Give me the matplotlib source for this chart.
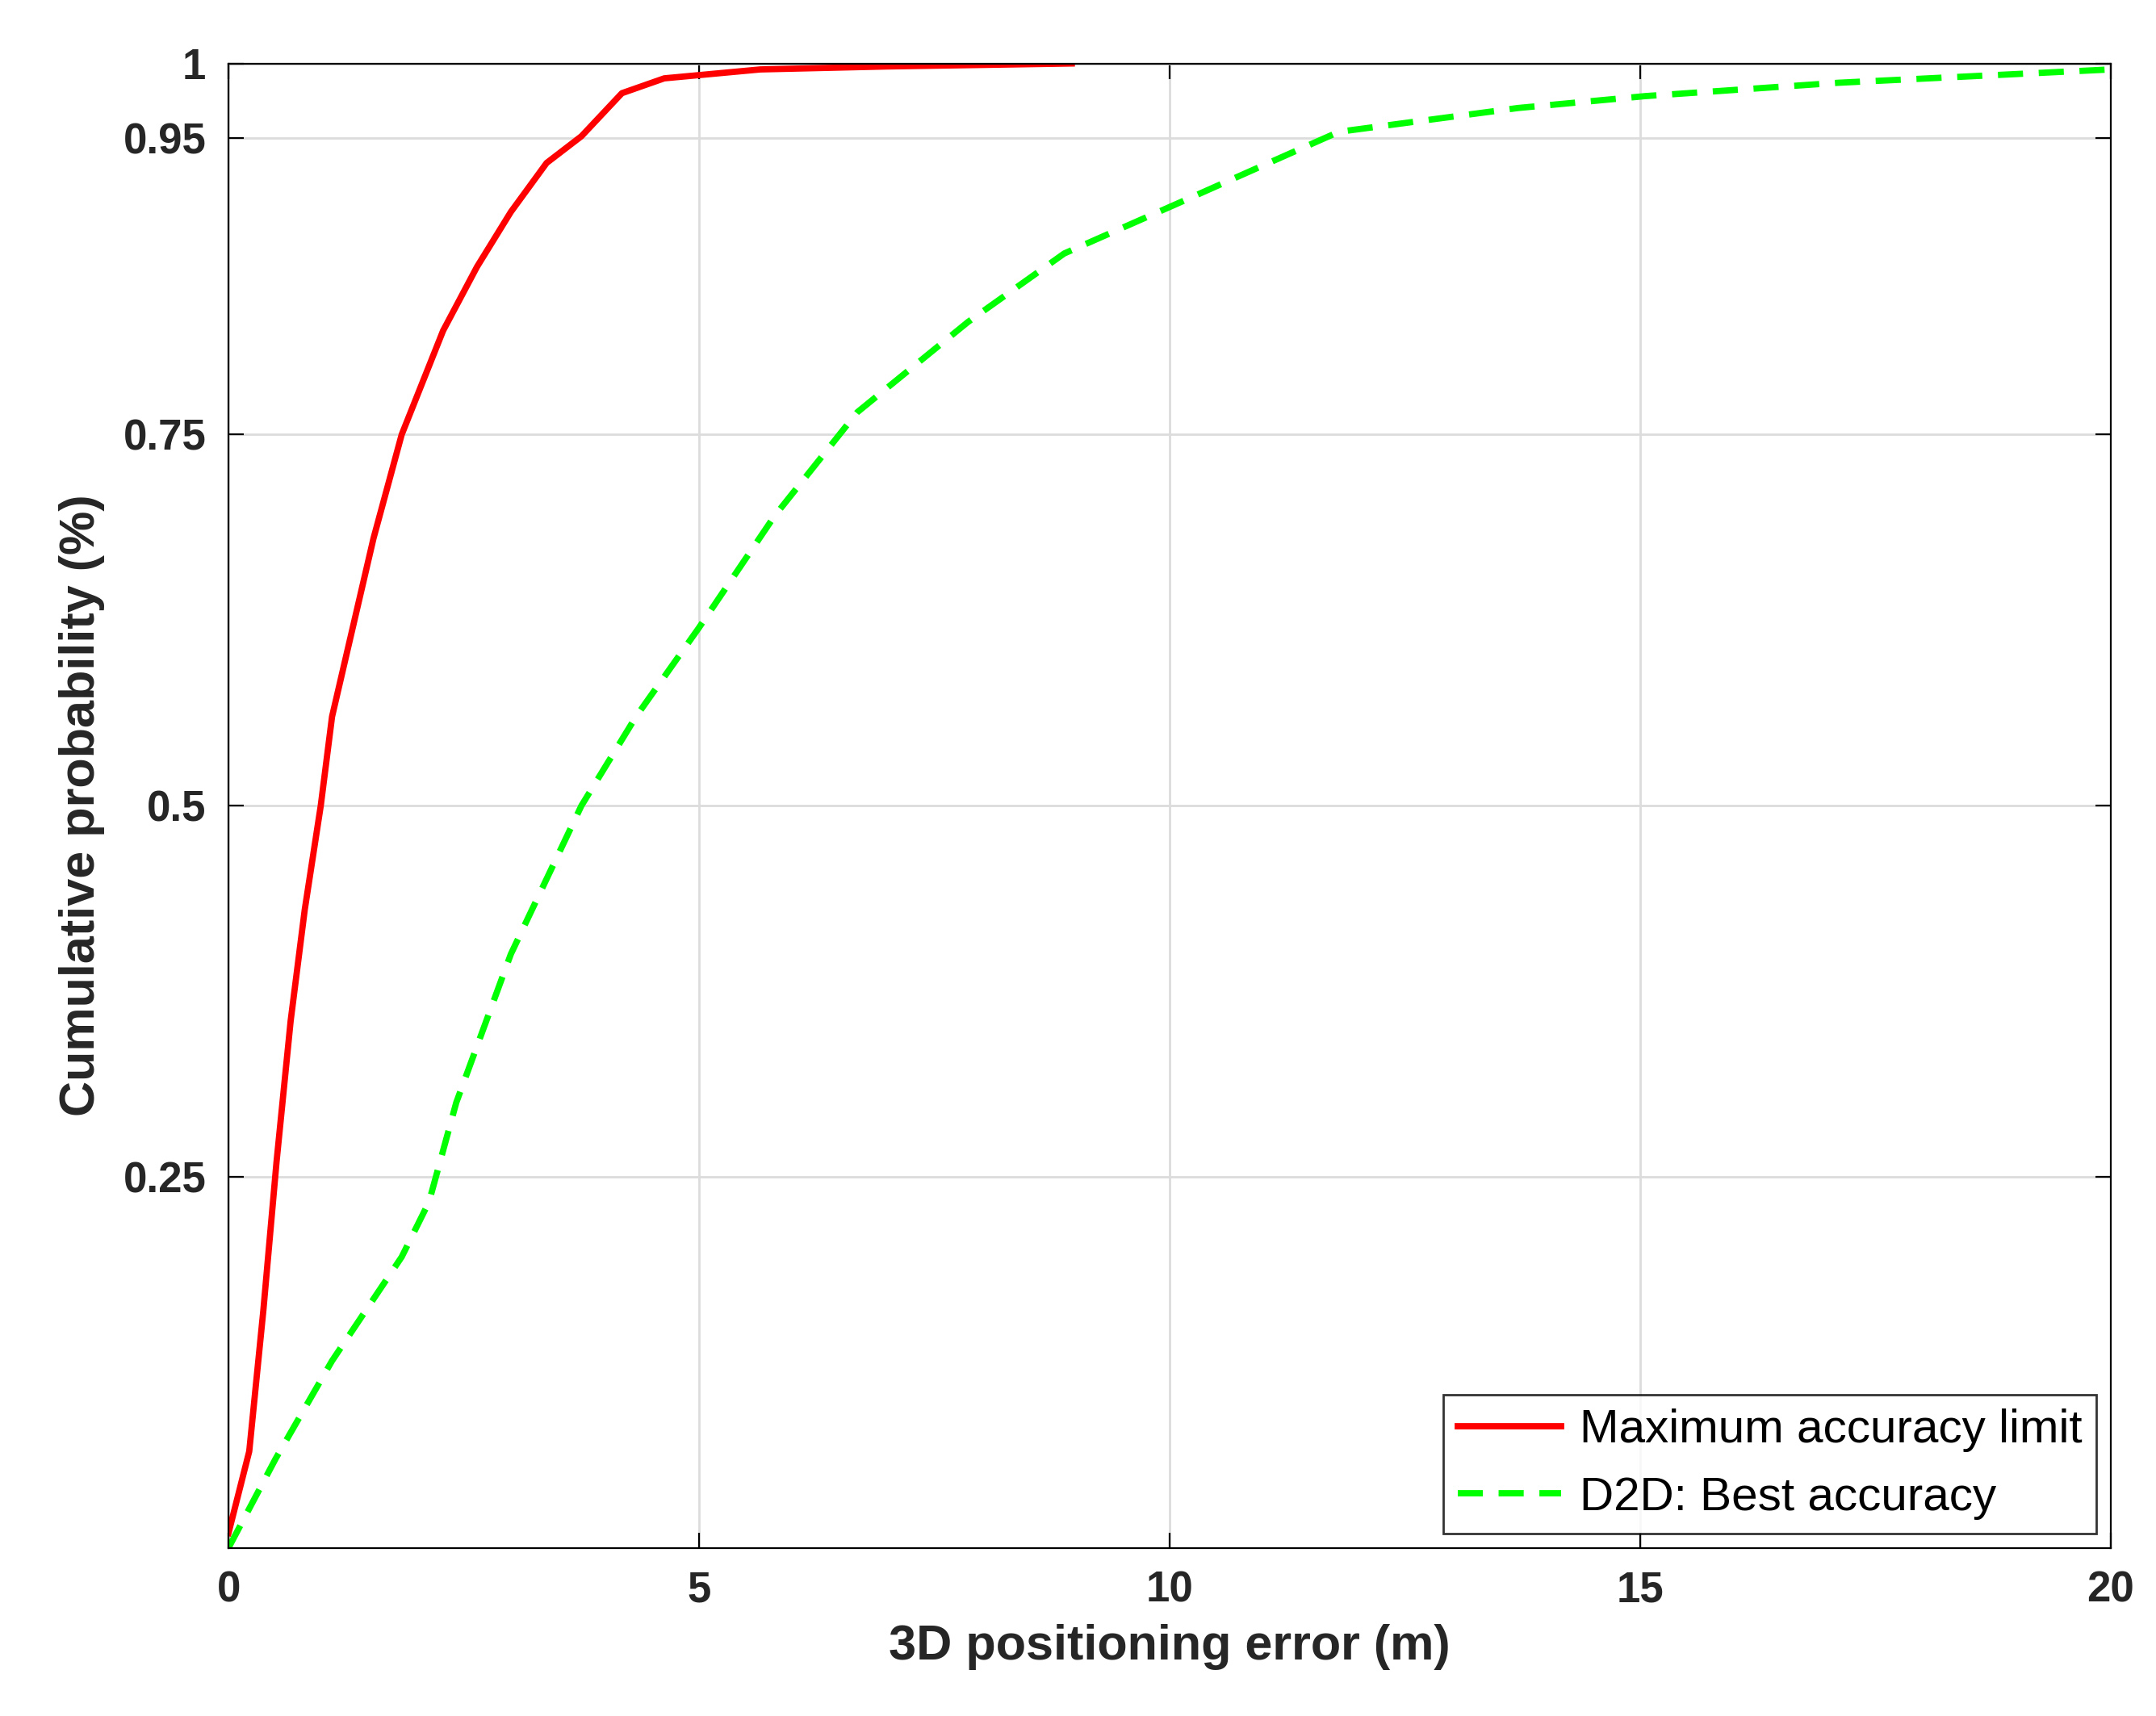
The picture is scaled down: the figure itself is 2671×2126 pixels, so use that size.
import matplotlib.pyplot as plt

plt.rcParams['font.family'] = ['Liberation Sans', 'DejaVu Sans']

red_x = [0, 0.22, 0.37, 0.51, 0.66, 0.81, 0.98, 1.1, 1.32, 1.54, 1.84, 2.28, 2.64, 3.0, 3.38, 3.75, 4.18, 4.63, 5.65, 7.0, 8.96]
red_y = [0.01, 0.065, 0.16, 0.26, 0.355, 0.43, 0.5, 0.56, 0.62, 0.68, 0.75, 0.82, 0.863, 0.9, 0.933, 0.951, 0.98, 0.99, 0.996, 0.998, 1.0]

green_x = [0, 0.5, 1.1, 1.84, 2.13, 2.42, 3.0, 3.75, 4.33, 5.0, 5.8, 6.68, 7.86, 8.88, 10.06, 11.23, 11.8, 13.7, 15.05, 17.1, 20.0]
green_y = [0, 0.06, 0.126, 0.196, 0.233, 0.3, 0.4, 0.5, 0.56, 0.62, 0.695, 0.765, 0.826, 0.872, 0.905, 0.938, 0.954, 0.97, 0.978, 0.987, 0.996]

fig = plt.figure(figsize=(13.355, 10.63), dpi=200)
ax = fig.add_axes([0.106, 0.098, 0.873, 0.865])
ax.plot(red_x, red_y, color='#ff0000', lw=2.8, label='Maximum accuracy limit')
ax.plot(green_x, green_y, color='#00ff00', lw=2.8, ls=(0, (4, 2.5)), label='D2D: Best accuracy')
ax.set_xlim(0, 20)
ax.set_ylim(0, 1)
ax.set_xticks([0, 5, 10, 15, 20])
ax.set_yticks([0.25, 0.5, 0.75, 0.95, 1])
ax.set_yticklabels(['0.25', '0.5', '0.75', '0.95', '1'])
ax.grid(True, color='#dcdcdc', lw=1.0)
ax.tick_params(direction='in', top=True, right=True, labelsize=19, length=7,
               pad=10, labelcolor='#262626')
for lab in ax.get_xticklabels() + ax.get_yticklabels():
    lab.set_fontweight('bold')
ax.set_xlabel('3D positioning error (m)', fontsize=22, fontweight='bold', color='#262626', labelpad=6)
ax.set_ylabel('Cumulative probability (%)', fontsize=22, fontweight='bold', color='#262626', labelpad=8)
leg = ax.legend(loc='lower right', fontsize=21, fancybox=False, edgecolor='black',
                borderaxespad=0.3, handlelength=2.2, handletextpad=0.4, borderpad=0.3)
leg.get_frame().set_linewidth(1.0)
fig.savefig('out.png', dpi=200)
